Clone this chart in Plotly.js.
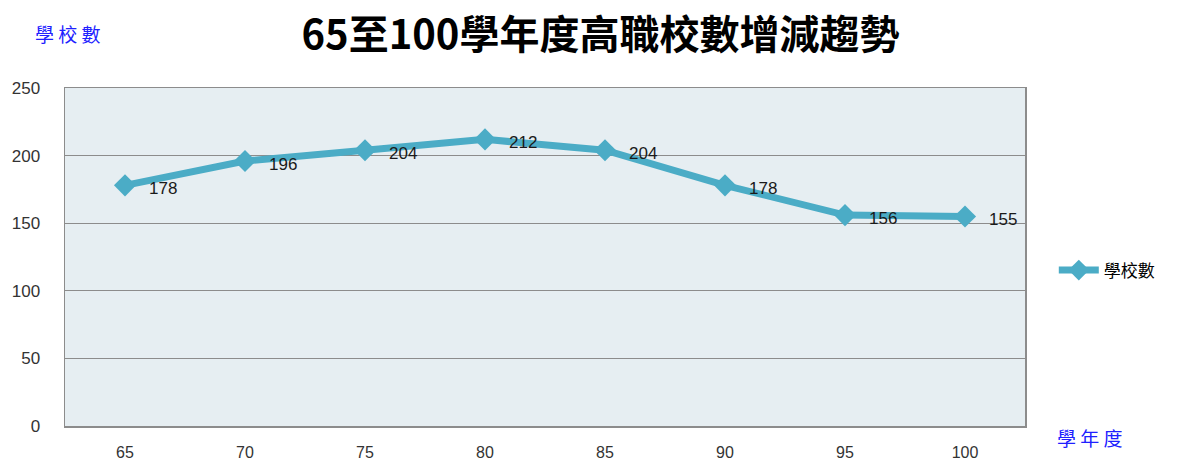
<!DOCTYPE html>
<html><head><meta charset="utf-8">
<script src="https://cdn.plot.ly/plotly-3.0.1.min.js"></script>
<style>html,body{margin:0;padding:0;background:#fff;}#chart{width:1182px;height:464px;}</style>
</head><body><div id="chart"></div>
<script>
const years = ['65','70','75','80','85','90','95','100'];
const schools = [178, 196, 204, 212, 204, 178, 156, 155];
const seriesName = '學校數';
const titleText = '65至100學年度高職校數增減趨勢';
const yTitle = '學 校 數';
const xTitle = '學 年 度';
const yTicks = [0, 50, 100, 150, 200, 250];

const lineColor = '#4BACC6';
const trace = {
  x: years, y: schools, type: 'scatter', mode: 'lines+markers', name: seriesName,
  line: {color: lineColor, width: 7},
  marker: {symbol: 'diamond', size: 17, color: lineColor},
  cliponaxis: false
};
const labelAnns = years.map((yr, i) => ({
  x: i, y: schools[i], xref: 'x', yref: 'y', text: String(schools[i]),
  showarrow: false, xanchor: 'left', yanchor: 'middle', xshift: 22, yshift: -3,
  font: {family: 'Liberation Sans, Arial, sans-serif', size: 17, color: '#1a1a1a'}
}));
const layout = {
  width: 1182, height: 464,
  margin: {l: 65, r: 157, t: 88, b: 38},
  paper_bgcolor: '#ffffff', plot_bgcolor: '#E6EEF2',
  title: {text: titleText, x: 0.508, xref: 'container', xanchor: 'center', y: 0.925, yref: 'container', yanchor: 'middle',
    font: {family: 'Noto Sans CJK TC, serif', size: 40, color: '#000', weight: 700}},
  xaxis: {type: 'category', range: [-0.5, 7.5], showgrid: false, zeroline: false,
    showline: true, linecolor: '#8c8c8c', linewidth: 1.5, mirror: true, ticks: '',
    tickfont: {family: 'Liberation Sans, Arial, sans-serif', size: 16, color: '#333'}, ticklabelstandoff: 11},
  yaxis: {range: [0, 250], tickvals: yTicks, showgrid: true, gridcolor: '#8c8c8c', gridwidth: 1,
    zeroline: false, showline: true, linecolor: '#8c8c8c', linewidth: 1.5, mirror: true, ticks: '',
    tickfont: {family: 'Liberation Sans, Arial, sans-serif', size: 17, color: '#333'}, ticklabelstandoff: 20},
  showlegend: true,
  legend: {x: 1.03, xanchor: 'left', y: 0.46, yanchor: 'middle', bgcolor: 'rgba(0,0,0,0)',
    font: {family: 'Noto Sans CJK TC, sans-serif', size: 17, color: '#000'}, itemwidth: 40},
  annotations: labelAnns.concat([
    {text: yTitle, xref: 'paper', yref: 'paper', x: -0.033, y: 1.16, xanchor: 'left', yanchor: 'middle',
     showarrow: false, font: {family: 'Noto Sans CJK TC, sans-serif', size: 19, color: '#2020ff'}},
    {text: xTitle, xref: 'paper', yref: 'paper', x: 1.031, y: -0.035, xanchor: 'left', yanchor: 'middle',
     showarrow: false, font: {family: 'Noto Sans CJK TC, sans-serif', size: 19, color: '#2020ff'}}
  ])
};
Plotly.newPlot('chart', [trace], layout, {displayModeBar: false, staticPlot: true});
</script></body></html>
